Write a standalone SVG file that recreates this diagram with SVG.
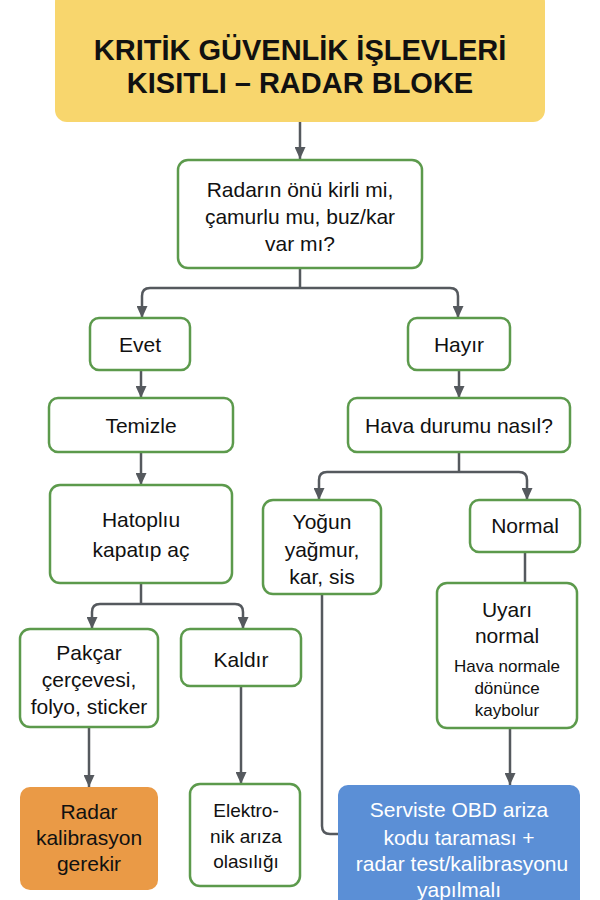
<svg xmlns="http://www.w3.org/2000/svg" width="600" height="900" viewBox="0 0 600 900">
<defs>
<marker id="ah" markerUnits="userSpaceOnUse" markerWidth="12" markerHeight="11" refX="12" refY="5.5" orient="auto">
<path d="M0,0 L12,5.5 L0,11 z" fill="#55595e"/>
</marker>
<style>
.n{fill:#ffffff;stroke:#5c9a4c;stroke-width:2.5}
.t{font-family:"Liberation Sans",Arial,sans-serif;font-size:21px;fill:#111;text-anchor:middle}
.s{font-size:17px}
.w{fill:#ffffff}
.c{fill:none;stroke:#55595e;stroke-width:2.5}
.a{marker-end:url(#ah)}
</style>
</defs>
<rect width="600" height="900" fill="#ffffff"/>
<g id="connectors">
<path class="c a" d="M300,122 V159"/>
<path class="c" d="M300,268 V288"/>
<path class="c a" d="M300,288 H150 Q142,288 142,296 V318"/>
<path class="c a" d="M300,288 H450 Q458,288 458,296 V318"/>
<path class="c a" d="M141,370 V398"/>
<path class="c a" d="M459,370 V398"/>
<path class="c a" d="M141,452 V485"/>
<path class="c" d="M459,452 V472"/>
<path class="c a" d="M459,472 H327 Q319,472 319,480 V500"/>
<path class="c a" d="M459,472 H519 Q527,472 527,480 V500"/>
<path class="c" d="M141,583 V604"/>
<path class="c a" d="M141,604 H100 Q92,604 92,612 V629"/>
<path class="c a" d="M141,604 H235 Q243,604 243,612 V629"/>
<path class="c a" d="M89,727 V787"/>
<path class="c a" d="M241,686 V784"/>
<path class="c" d="M322,594 V826 Q322,834 330,834 H339"/>
<path class="c" d="M525,552 V583"/>
<path class="c a" d="M510,728 V785"/>
</g>
<g id="title">
<rect x="55" y="-10" width="490" height="132" rx="12" fill="#f8d66d"/>
<text class="t" x="300" y="60" style="font-size:29px;font-weight:bold">KRITİK GÜVENLİK İŞLEVLERİ</text>
<text class="t" x="300" y="93" style="font-size:29px;font-weight:bold">KISITLI – RADAR BLOKE</text>
</g>
<g id="decision">
<rect class="n" x="178" y="160" width="244" height="108" rx="10"/>
<text class="t" x="300" y="197">Radarın önü kirli mi,</text>
<text class="t" x="300" y="224">çamurlu mu, buz/kar</text>
<text class="t" x="300" y="251">var mı?</text>
</g>
<g id="evet">
<rect class="n" x="90" y="318" width="100" height="52" rx="9"/>
<text class="t" x="140" y="352">Evet</text>
</g>
<g id="hayir">
<rect class="n" x="408" y="318" width="102" height="52" rx="9"/>
<text class="t" x="459" y="352">Hayır</text>
</g>
<g id="temizle">
<rect class="n" x="49" y="398" width="184" height="54" rx="9"/>
<text class="t" x="141" y="433">Temizle</text>
</g>
<g id="hava">
<rect class="n" x="348" y="398" width="222" height="54" rx="9"/>
<text class="t" x="459" y="433">Hava durumu nasıl?</text>
</g>
<g id="hatoplu">
<rect class="n" x="50" y="485" width="182" height="98" rx="10"/>
<text class="t" x="141" y="527">Hatoplıu</text>
<text class="t" x="141" y="557">kapatıp aç</text>
</g>
<g id="yogun">
<rect class="n" x="263" y="500" width="118" height="94" rx="10"/>
<text class="t" x="322" y="529">Yoğun</text>
<text class="t" x="322" y="557">yağmur,</text>
<text class="t" x="322" y="584">kar, sis</text>
</g>
<g id="normal">
<rect class="n" x="470" y="500" width="110" height="52" rx="9"/>
<text class="t" x="525" y="533">Normal</text>
</g>
<g id="pakcar">
<rect class="n" x="20" y="629" width="138" height="98" rx="10"/>
<text class="t" x="89" y="660">Pakçar</text>
<text class="t" x="89" y="687">çerçevesi,</text>
<text class="t" x="89" y="714">folyo, sticker</text>
</g>
<g id="kaldir">
<rect class="n" x="181" y="629" width="120" height="57" rx="9"/>
<text class="t" x="241" y="667">Kaldır</text>
</g>
<g id="uyari">
<rect class="n" x="437" y="583" width="140" height="145" rx="10"/>
<text class="t" x="507" y="617">Uyarı</text>
<text class="t" x="507" y="643">normal</text>
<text class="t s" x="507" y="672">Hava normale</text>
<text class="t s" x="507" y="694">dönünce</text>
<text class="t s" x="507" y="716">kaybolur</text>
</g>
<g id="radar-kalibrasyon">
<rect x="20" y="787" width="138" height="103" rx="10" fill="#ea9a46"/>
<text class="t" x="89" y="819">Radar</text>
<text class="t" x="89" y="845">kalibrasyon</text>
<text class="t" x="89" y="871">gerekir</text>
</g>
<g id="elektronik">
<rect class="n" x="190" y="784" width="110" height="102" rx="10"/>
<text class="t" x="246" y="817" style="font-size:19px">Elektro-</text>
<text class="t" x="246" y="843" style="font-size:19px">nik arıza</text>
<text class="t" x="246" y="868" style="font-size:19px">olasılığı</text>
</g>
<g id="servis">
<rect x="338" y="785" width="242" height="125" rx="10" fill="#5b8fd6"/>
<text class="t w" x="459" y="817">Serviste OBD ariza</text>
<text class="t w" x="459" y="845">kodu taraması +</text>
<text class="t w" x="462" y="871">radar test/kalibrasyonu</text>
<text class="t w" x="459" y="897">yapılmalı</text>
</g>
</svg>
